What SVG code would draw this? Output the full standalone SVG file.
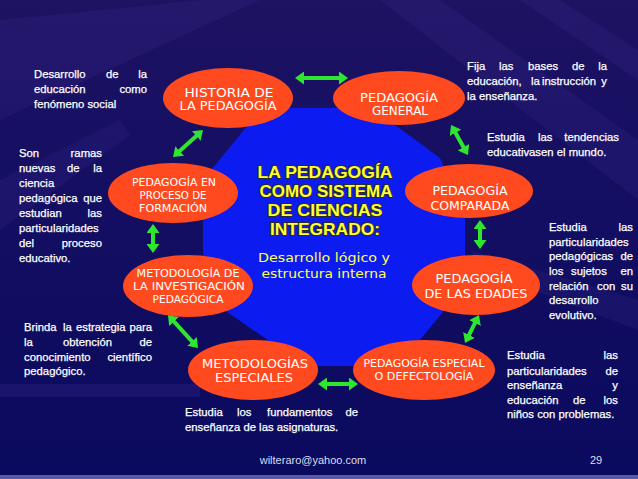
<svg xmlns="http://www.w3.org/2000/svg" width="638" height="479" viewBox="0 0 638 479">
<defs>
<linearGradient id="bg" x1="0" y1="0" x2="0" y2="1">
<stop offset="0" stop-color="#1e1262"/>
<stop offset="0.35" stop-color="#150f62"/>
<stop offset="1" stop-color="#0a0a5e"/>
</linearGradient>
<marker id="ah" viewBox="0 0 9 13" refX="3" refY="6.5" markerWidth="9" markerHeight="13" markerUnits="userSpaceOnUse" orient="auto-start-reverse">
<path d="M0,0 L9,6.5 L0,13 z" fill="#2ee62e"/>
</marker>
<style>
.node ellipse{fill:#ff4a1f}
.lbl{font-family:"DejaVu Sans","Liberation Sans",sans-serif;fill:#ffffff;text-anchor:middle;font-size:12px}
.sm{font-size:10.5px}
.note{font-family:"Liberation Sans",Arial,sans-serif;font-size:11.3px;fill:#ffffff;stroke:#ffffff;stroke-width:0.25}
.e{text-anchor:end}
.title{font-family:"Liberation Sans",Arial,sans-serif;font-weight:bold;font-size:17px;fill:#ffff33;stroke:#2a2a2a;stroke-width:2;paint-order:stroke;text-anchor:middle}
.sub{font-family:"DejaVu Sans","Liberation Sans",sans-serif;font-size:13px;fill:#ffff55;text-anchor:middle}
.conn line{stroke:#2ee62e;stroke-width:4;marker-start:url(#ah);marker-end:url(#ah)}
.foot{font-family:"Liberation Sans",Arial,sans-serif;font-size:11px;fill:#dcdcec}
</style>
</defs>
<rect width="638" height="479" fill="url(#bg)"/>
<g opacity="0.15" fill="#4a3aa0">
<polygon points="0,20 200,0 260,0 0,120"/>
<polygon points="380,0 440,0 638,140 638,200"/>
<polygon points="520,0 560,0 638,50 638,80"/>
<polygon points="0,180 120,120 130,135 0,230"/>
<polygon points="470,250 638,300 638,330 480,270"/>
</g>
<rect x="0" y="384" width="200" height="13" fill="#3a2a8a" opacity="0.3"/>
<rect x="0" y="475" width="638" height="4" fill="#5a5aa8"/>

<polygon id="center-shape" points="262,108 372,108 440,158 465,215 465,285 420,340 365,366 305,366 203,295 203,180" fill="#0c1cf0"/>

<g id="center-title">
<text class="title" x="325" y="178" textLength="135" lengthAdjust="spacingAndGlyphs">LA PEDAGOGÍA</text>
<text class="title" x="326" y="197" textLength="133" lengthAdjust="spacingAndGlyphs">COMO SISTEMA</text>
<text class="title" x="325" y="216" textLength="115" lengthAdjust="spacingAndGlyphs">DE CIENCIAS</text>
<text class="title" x="325" y="235" textLength="110" lengthAdjust="spacingAndGlyphs">INTEGRADO:</text>
<text class="sub" x="324" y="262" textLength="132" lengthAdjust="spacingAndGlyphs">Desarrollo lógico  y</text>
<text class="sub" x="324" y="278" textLength="125" lengthAdjust="spacingAndGlyphs">estructura interna</text>
</g>

<g class="conn" id="connectors">
<line x1="301" y1="78" x2="342" y2="78"/>
<line x1="198.5" y1="134" x2="177.5" y2="153"/>
<line x1="454" y1="130.2" x2="465" y2="149.8"/>
<line x1="153" y1="230" x2="153" y2="247"/>
<line x1="480" y1="226" x2="480" y2="243"/>
<line x1="172" y1="319.4" x2="194" y2="343.6"/>
<line x1="476.3" y1="320.4" x2="467.7" y2="337.6"/>
<line x1="324" y1="384" x2="352" y2="384"/>
</g>

<g class="node" id="historia">
<ellipse cx="228" cy="98" rx="65" ry="30"/>
<text class="lbl" x="229" y="97" textLength="89" lengthAdjust="spacingAndGlyphs">HISTORIA DE</text>
<text class="lbl" x="228" y="110" textLength="97" lengthAdjust="spacingAndGlyphs">LA PEDAGOGÍA</text>
</g>
<g class="node" id="general">
<ellipse cx="399" cy="98" rx="66" ry="27"/>
<text class="lbl" x="399" y="102" textLength="78" lengthAdjust="spacingAndGlyphs">PEDAGOGÍA</text>
<text class="lbl" x="400" y="115" textLength="56" lengthAdjust="spacingAndGlyphs">GENERAL</text>
</g>
<g class="node" id="formacion">
<ellipse cx="173" cy="193" rx="65" ry="30"/>
<text class="lbl sm" x="174" y="186" textLength="84" lengthAdjust="spacingAndGlyphs">PEDAGOGÍA EN</text>
<text class="lbl sm" x="173" y="199" textLength="67" lengthAdjust="spacingAndGlyphs">PROCESO DE</text>
<text class="lbl sm" x="173" y="212" textLength="68" lengthAdjust="spacingAndGlyphs">FORMACIÓN</text>
</g>
<g class="node" id="comparada">
<ellipse cx="469" cy="191" rx="64" ry="27"/>
<text class="lbl" x="470" y="195" textLength="75" lengthAdjust="spacingAndGlyphs">PEDAGOGÍA</text>
<text class="lbl" x="470" y="210" textLength="79" lengthAdjust="spacingAndGlyphs">COMPARADA</text>
</g>
<g class="node" id="investigacion">
<ellipse cx="188" cy="286" rx="65" ry="31"/>
<text class="lbl sm" x="188" y="277" textLength="103" lengthAdjust="spacingAndGlyphs">METODOLOGÍA DE</text>
<text class="lbl sm" x="189" y="290" textLength="112" lengthAdjust="spacingAndGlyphs">LA INVESTIGACIÓN</text>
<text class="lbl sm" x="188" y="303" textLength="71" lengthAdjust="spacingAndGlyphs">PEDAGÓGICA</text>
</g>
<g class="node" id="edades">
<ellipse cx="476" cy="285" rx="64" ry="30"/>
<text class="lbl" x="474" y="283" textLength="77" lengthAdjust="spacingAndGlyphs">PEDAGOGÍA</text>
<text class="lbl" x="476" y="298" textLength="103" lengthAdjust="spacingAndGlyphs">DE LAS EDADES</text>
</g>
<g class="node" id="metodologias">
<ellipse cx="253" cy="370" rx="65" ry="30"/>
<text class="lbl" x="255" y="368" textLength="106" lengthAdjust="spacingAndGlyphs">METODOLOGÍAS</text>
<text class="lbl" x="254" y="382" textLength="78" lengthAdjust="spacingAndGlyphs">ESPECIALES</text>
</g>
<g class="node" id="defectologia">
<ellipse cx="424" cy="370" rx="71" ry="30"/>
<text class="lbl sm" x="424" y="367" textLength="121" lengthAdjust="spacingAndGlyphs">PEDAGOGÍA ESPECIAL</text>
<text class="lbl sm" x="424" y="380" textLength="99" lengthAdjust="spacingAndGlyphs">O DEFECTOLOGÍA</text>
</g>

<g id="note-historia" class="note">
<text x="34" y="78">Desarrollo</text><text x="106" y="78">de</text><text class="e" x="147" y="78">la</text>
<text x="34" y="93">educación</text><text class="e" x="147" y="93">como</text>
<text x="34" y="108">fenómeno social</text>
</g>
<g id="note-formacion" class="note">
<text x="19" y="157">Son</text><text class="e" x="102" y="157">ramas</text>
<text x="19" y="172">nuevas</text><text x="67" y="172">de</text><text class="e" x="102" y="172">la</text>
<text x="19" y="187">ciencia</text>
<text x="19" y="202">pedagógica</text><text class="e" x="102" y="202">que</text>
<text x="19" y="217">estudian</text><text class="e" x="102" y="217">las</text>
<text x="19" y="232">particularidades</text>
<text x="19" y="247">del</text><text class="e" x="102" y="247">proceso</text>
<text x="19" y="262">educativo.</text>
</g>
<g id="note-general" class="note">
<text x="467" y="70">Fija</text><text x="499" y="70">las</text><text x="528" y="70">bases</text><text x="572" y="70">de</text><text class="e" x="607" y="70">la</text>
<text x="467" y="85">educación,</text><text x="531" y="85">la</text><text x="542" y="85">instrucción</text><text class="e" x="607" y="85">y</text>
<text x="467" y="100">la enseñanza.</text>
</g>
<g id="note-comparada" class="note">
<text x="487" y="141">Estudia</text><text x="538" y="141">las</text><text class="e" x="619" y="141">tendencias</text>
<text x="487" y="156">educativasen el mundo.</text>
</g>
<g id="note-edades" class="note">
<text x="549" y="231">Estudia</text><text class="e" x="633" y="231">las</text>
<text x="549" y="245.5">particularidades</text>
<text x="549" y="260">pedagógicas</text><text class="e" x="633" y="260">de</text>
<text x="549" y="275">los</text><text x="571" y="275">sujetos</text><text class="e" x="633" y="275">en</text>
<text x="549" y="289.5">relación</text><text x="597" y="289.5">con</text><text class="e" x="633" y="289.5">su</text>
<text x="549" y="304">desarrollo</text>
<text x="549" y="318.5">evolutivo.</text>
</g>
<g id="note-investigacion" class="note">
<text x="24" y="331">Brinda</text><text x="63" y="331">la</text><text x="76" y="331">estrategia</text><text class="e" x="152" y="331">para</text>
<text x="24" y="346">la</text><text x="63" y="346">obtención</text><text class="e" x="152" y="346">de</text>
<text x="24" y="361">conocimiento</text><text class="e" x="152" y="361">científico</text>
<text x="24" y="375">pedagógico.</text>
</g>
<g id="note-metodologias" class="note">
<text x="185" y="416">Estudia</text><text x="237" y="416">los</text><text x="267" y="416">fundamentos</text><text class="e" x="358" y="416">de</text>
<text x="185" y="431">enseñanza de las asignaturas.</text>
</g>
<g id="note-defectologia" class="note">
<text x="507" y="359">Estudia</text><text class="e" x="618" y="359">las</text>
<text x="507" y="375">particularidades</text><text class="e" x="618" y="375">de</text>
<text x="507" y="389">enseñanza</text><text class="e" x="618" y="389">y</text>
<text x="507" y="404">educación</text><text x="573" y="404">de</text><text class="e" x="618" y="404">los</text>
<text x="507" y="418">niños con problemas.</text>
</g>

<g id="footer">
<text class="foot" x="313" y="464" text-anchor="middle">wilteraro@yahoo.com</text>
<text class="foot" x="596" y="464" text-anchor="middle">29</text>
</g>
</svg>
